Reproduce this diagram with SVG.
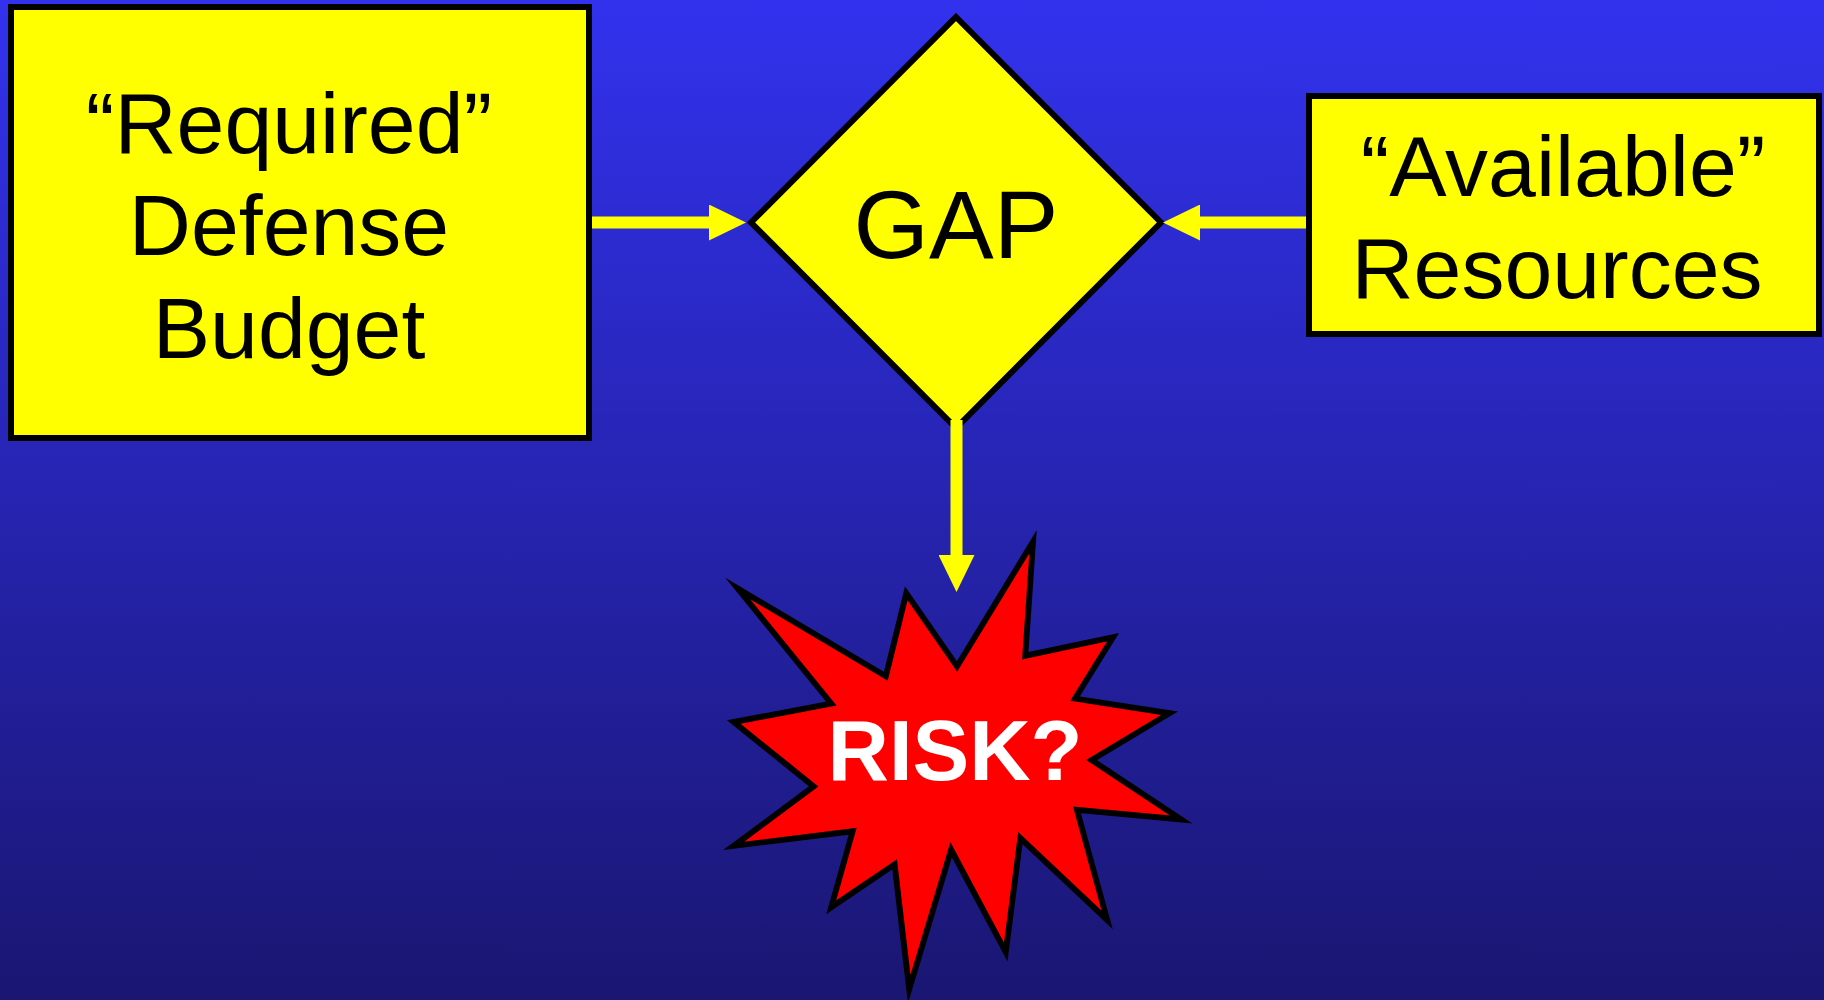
<svg xmlns="http://www.w3.org/2000/svg" width="1824" height="1000" viewBox="0 0 1824 1000">
  <defs>
    <linearGradient id="bg" x1="0" y1="0" x2="0" y2="1">
      <stop offset="0" stop-color="#3232EE"/>
      <stop offset="1" stop-color="#1A1672"/>
    </linearGradient>
    <marker id="head" viewBox="0 0 37 36" markerWidth="37" markerHeight="36" markerUnits="userSpaceOnUse" refX="0" refY="18" orient="auto">
      <path d="M0,0 L37,18 L0,36 Z" fill="#FFFF00"/>
    </marker>
    <style>
      .box { fill: #FFFF00; stroke: #000000; stroke-width: 6; }
      .lbl { font-family: "Liberation Sans", Arial, sans-serif; font-size: 86px; fill: #000000; text-anchor: middle; }
      .conn { stroke: #FFFF00; stroke-width: 12; fill: none; marker-end: url(#head); }
      .star { fill: #FF0000; stroke: #000000; stroke-width: 6; stroke-linejoin: miter; stroke-miterlimit: 10; }
      .risk { font-family: "Liberation Sans", Arial, sans-serif; font-size: 85px; font-weight: bold; fill: #FFFFFF; text-anchor: middle; }
    </style>
  </defs>
  <rect x="0" y="0" width="1824" height="1000" fill="url(#bg)"/>

  <g id="required-budget">
    <rect class="box" x="11" y="7" width="578" height="431"/>
    <text class="lbl" x="289" y="152.5">“Required”</text>
    <text class="lbl" x="289" y="255">Defense</text>
    <text class="lbl" x="289" y="358">Budget</text>
  </g>

  <g id="gap">
    <polygon class="box" points="956,17 1161,222.5 956,428 751,222.5"/>
    <text class="lbl" x="956" y="258" style="font-size:97px">GAP</text>
  </g>

  <g id="available-resources">
    <rect class="box" x="1309" y="96" width="510" height="238"/>
    <text class="lbl" x="1563" y="196">“Available”</text>
    <text class="lbl" x="1557" y="298">Resources</text>
  </g>

  <g id="risk">
    <polygon class="star" transform="translate(957,762) scale(0.975) translate(-957,-762)" points="1035,536 1027,653 1117,634 1078,697 1175,712 1095,760 1187,821 1080,811 1111,924 1022,840 1007,957 951,852 908,995 893,867 828,911 850,833 728,848 810,787 728,721 828,702 732,584 884,674 905,589 957,664"/>
    <text class="risk" x="955" y="780">RISK?</text>
  </g>

  <g id="connectors">
    <line class="conn" x1="592" y1="222.5" x2="709" y2="222.5"/>
    <line class="conn" x1="1306" y1="222.5" x2="1200" y2="222.5"/>
    <line class="conn" x1="956.5" y1="420" x2="956.5" y2="555"/>
  </g>
</svg>
